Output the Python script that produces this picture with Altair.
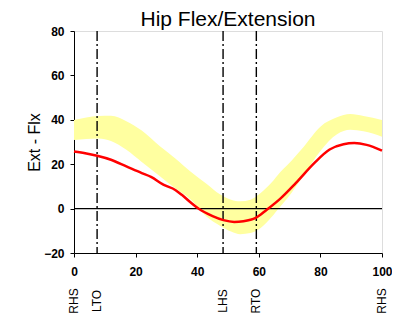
import altair as alt
import pandas as pd

# Mean curve (red)
line_x = [0, 4, 7.5, 12, 17, 22, 25, 29, 33, 35, 38, 40.5, 45, 48.5, 52, 55, 59, 62.5, 67, 72, 78, 83, 87.5, 91, 95, 100]
line_y = [25.7, 24.8, 23.8, 22, 19, 16, 14.3, 10.8, 8.3, 6.2, 2.6, -0.1, -3.4, -5.2, -6, -5.7, -4.2, -0.6, 4.5, 11.5, 20.5, 26.6, 29, 29.5, 28.7, 26.1]

# Normal band (yellow)
band_x = [0, 4, 8, 12, 17, 22, 28, 33, 38, 43, 47.5, 51, 54, 57.3, 60.6, 64, 67, 69.2, 74.6, 80, 85.4, 89.7, 94, 100]
band_hi = [39.9, 41, 41.7, 41.8, 39.4, 35.2, 28, 22.5, 16.5, 11.2, 6.3, 4, 3.3, 4, 7, 11.5, 16.5, 19.5, 27.9, 36.9, 41.1, 42.6, 41.7, 39.9]
band_lo = [30.9, 31.3, 31.6, 30.5, 26.5, 21, 14.5, 9, 4, -3.6, -7.8, -10.3, -11.5, -11, -8.7, -4, 1, 4.5, 15, 26, 33.5, 35.5, 34.8, 32.4]

# Gait events
event_names = ["RHS", "LTO", "LHS", "RTO", "RHS"]
event_x = [0, 7.5, 48.4, 59.2, 100]
event_lines_x = [7.5, 48.4, 59.2]

x_ticks = list(range(0, 101, 10))
y_ticks = list(range(-20, 81, 20))

line_df = pd.DataFrame({"x": line_x, "y": line_y})
band_df = pd.DataFrame({"x": band_x, "lo": band_lo, "hi": band_hi})
ev_df = pd.DataFrame({"x": event_x, "name": event_names})
evl_df = pd.DataFrame({"x": event_lines_x})

FONT = "Liberation Sans"

x_enc = alt.X(
    "x:Q",
    scale=alt.Scale(domain=[0, 100], nice=False, zero=False),
    axis=alt.Axis(
        values=x_ticks,
        labelExpr="datum.value % 20 == 0 ? datum.label : ''",
        title=None,
        grid=False,
        tickSize=4,
        labelPadding=9,
        labelFontSize=12,
        labelFontWeight="bold",
        labelFont=FONT,
        labelColor="black",
        tickColor="black",
        domainColor="black",
        labelFlush=False,
    ),
)

y_scale = alt.Scale(domain=[-20, 80], nice=False, zero=False)
y_axis = alt.Axis(
    values=y_ticks,
    title="Ext - Flx",
    titleFont=FONT,
    titleFontSize=16,
    titleFontWeight="normal",
    titleColor="black",
    titlePadding=1,
    grid=False,
    tickSize=4,
    labelPadding=6,
    labelFontSize=12,
    labelFontWeight="bold",
    labelFont=FONT,
    labelColor="black",
    tickColor="black",
    domainColor="black",
    labelFlush=False,
)

band = alt.Chart(band_df).mark_area(color="#ffffa0", opacity=1, interpolate="monotone").encode(
    x=x_enc,
    y=alt.Y("lo:Q", scale=y_scale, axis=y_axis),
    y2="hi:Q",
)

zero = alt.Chart(pd.DataFrame({"y": [0]})).mark_rule(color="black", strokeWidth=1.2).encode(
    y=alt.Y("y:Q", scale=y_scale)
)

vlines = alt.Chart(evl_df).mark_rule(color="black", strokeWidth=1.4, strokeDash=[10, 3, 2, 3]).encode(
    x=alt.X("x:Q")
)

line = alt.Chart(line_df).mark_line(color="#ff0000", strokeWidth=2.5, interpolate="monotone").encode(
    x=alt.X("x:Q"),
    y=alt.Y("y:Q", scale=y_scale),
)

labels = alt.Chart(ev_df).mark_text(
    angle=270, align="center", baseline="middle", fontSize=12, font=FONT, color="black"
).encode(
    x=alt.X("x:Q"),
    y=alt.value(270),
    text="name:N",
)

chart = alt.layer(band, zero, vlines, line, labels).properties(
    width=308,
    height=222,
    title=alt.TitleParams("Hip Flex/Extension", font=FONT, fontSize=21, fontWeight="normal",
                          color="black", offset=-5, anchor="middle", frame="group"),
    autosize=alt.AutoSizeParams(type="none"),
    padding={"left": 66, "top": 23, "right": 10, "bottom": 62},
).configure_view(
    stroke="black", strokeWidth=1.5
).configure_axis(
    domainWidth=1.5
).configure(background="white")

chart.save("out.html", embed_options={"renderer": "svg", "actions": False})
